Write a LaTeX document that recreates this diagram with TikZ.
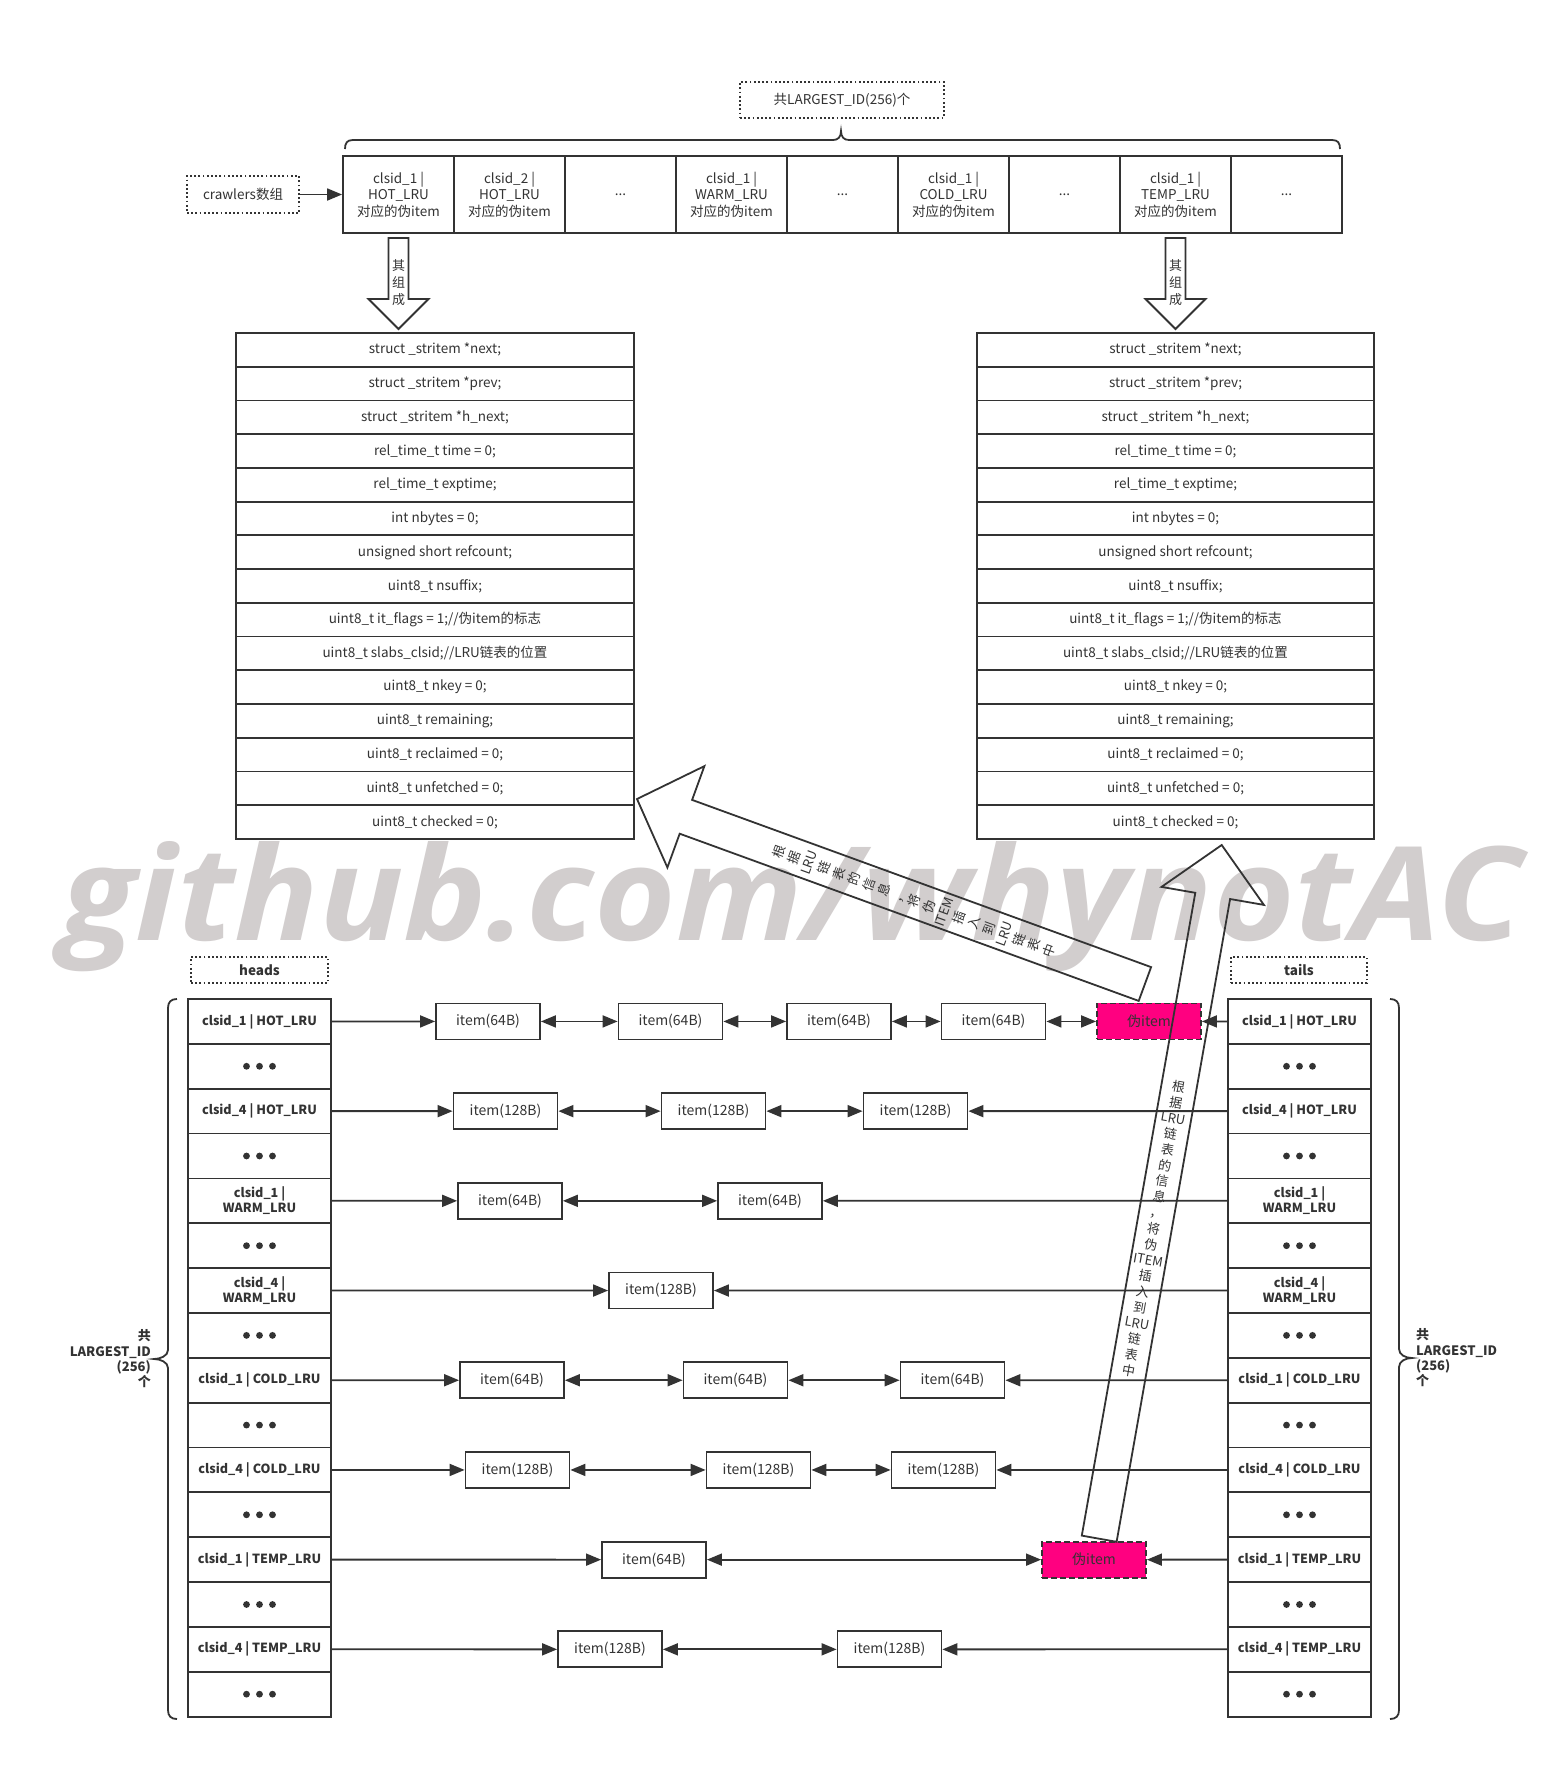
\documentclass[tikz,border=0pt]{standalone}
\usepackage{graphicx}
\usepackage{fontspec}
\setmainfont{Noto Sans CJK SC}
\newfontfamily\wmfont{Open Sans}
\usetikzlibrary{arrows.meta}
\definecolor{ink}{HTML}{333333}
\definecolor{wmc}{RGB}{210,206,206}
\definecolor{pinkc}{HTML}{FF0080}
\tikzset{
  every node/.style={text=ink, font=\fontsize{14}{16.5}\selectfont},
  box/.style={draw=ink, line width=1.8pt, inner sep=0pt, align=center},
  topcell/.style={box, minimum width=111pt, minimum height=77pt, font=\fontsize{13.5}{16.5}\selectfont},
  row/.style={box, minimum height=33.73pt, font=\fontsize{13.5}{16}\selectfont},
  colcell/.style={box, minimum width=143pt, minimum height=44.85pt, font=\bfseries\fontsize{12.6}{14.5}\selectfont},
  itembox/.style={box, minimum width=104pt, minimum height=36pt, font=\fontsize{14}{16}\selectfont},
  pinkbox/.style={itembox, fill=pinkc, dash pattern=on 6pt off 3pt},
  dotbox/.style={box, dash pattern=on 1.8pt off 2.4pt},
  conn/.style={draw=ink, line width=1.8pt},
  one/.style={conn, -{Triangle[length=15pt,width=12pt]}},
  two/.style={conn, {Triangle[length=15pt,width=12pt]}-{Triangle[length=15pt,width=12pt]}},
  bigarrow/.style={draw=ink, line width=1.8pt, line join=miter},
  bracepath/.style={draw=ink, line width=1.8pt},
}
\begin{document}
\begin{tikzpicture}[x=1pt,y=-1pt]
\useasboundingbox (0,0) rectangle (1559,1781);
\fill[white] (0,0) rectangle (1559,1781);

% watermark
\node[anchor=base west, inner sep=0pt, text=wmc] (wm) at (60,940)
  {\resizebox{1462pt}{99pt}{\wmfont\bfseries\itshape github.com/whynotAC}};

% top label and brace
\node[dotbox, minimum width=204pt, minimum height=36pt, font=\fontsize{13.5}{16}\selectfont] (lbl) at (842,100) {共LARGEST\_ID(256)个};
\draw[bracepath] (345,149) .. controls (345,143) and (347,140) .. (353,140) -- (833,140)
  .. controls (838,140) and (841,137) .. (841,131)
  .. controls (841,137) and (844,140) .. (849,140) -- (1332,140)
  .. controls (1338,140) and (1340,143) .. (1340,149);

% crawlers
\node[dotbox, minimum width=112pt, minimum height=37pt, font=\fontsize{13.5}{16}\selectfont] (crw) at (243,194.5) {crawlers数组};

% top array
\node[topcell] (top1) at (398.5,194.5) {clsid\_1 |\\HOT\_LRU\\对应的伪item};
\node[topcell] (top2) at (509.5,194.5) {clsid\_2 |\\HOT\_LRU\\对应的伪item};
\node[topcell] (top3) at (620.5,194.5) {...};
\node[topcell] (top4) at (731.5,194.5) {clsid\_1 |\\WARM\_LRU\\对应的伪item};
\node[topcell] (top5) at (842.5,194.5) {...};
\node[topcell] (top6) at (953.5,194.5) {clsid\_1 |\\COLD\_LRU\\对应的伪item};
\node[topcell] (top7) at (1064.5,194.5) {...};
\node[topcell] (top8) at (1175.5,194.5) {clsid\_1 |\\TEMP\_LRU\\对应的伪item};
\node[topcell] (top9) at (1286.5,194.5) {...};
\draw[one] (crw.east) -- (top1.west);

% down arrows
\foreach \cx/\nm in {398.5/dl,1175.5/dr}{
  \draw[bigarrow] (\cx-10,238) -- (\cx+10,238) -- (\cx+10,299) -- (\cx+30,299) -- (\cx,329)
     -- (\cx-30,299) -- (\cx-10,299) -- cycle;
  \node[align=center, inner sep=0pt, font=\fontsize{13}{17}\selectfont] (\nm) at (\cx,283) {其\\组\\成};
}

% struct tables
\foreach \t [count=\i] in {{struct \_stritem *next;},{struct \_stritem *prev;},{struct \_stritem *h\_next;},
  {rel\_time\_t time = 0;},{rel\_time\_t exptime;},{int nbytes = 0;},{unsigned short refcount;},
  {uint8\_t nsuffix;},{uint8\_t it\_flags = 1;//伪item的标志},{uint8\_t slabs\_clsid;//LRU链表的位置},
  {uint8\_t nkey = 0;},{uint8\_t remaining;},{uint8\_t reclaimed = 0;},{uint8\_t unfetched = 0;},
  {uint8\_t checked = 0;}}{
  \node[row, minimum width=398pt] (L\i) at (435,{333+33.73*(\i-0.5)}) {\t};
  \node[row, minimum width=397pt] (R\i) at (1175.5,{333+33.73*(\i-0.5)}) {\t};
}

% heads / tails labels
\node[dotbox, minimum width=137pt, minimum height=26pt, font=\bfseries\fontsize{13.5}{16}\selectfont] (heads) at (259.5,970) {heads};
\node[dotbox, minimum width=136pt, minimum height=26pt, font=\bfseries\fontsize{13.5}{16}\selectfont] (tails) at (1299,970) {tails};

% columns
\foreach \t [count=\k from 0] in {{clsid\_1 | HOT\_LRU},{},{clsid\_4 | HOT\_LRU},{},
  {clsid\_1 |\\WARM\_LRU},{},{clsid\_4 |\\WARM\_LRU},{},{clsid\_1 | COLD\_LRU},{},
  {clsid\_4 | COLD\_LRU},{},{clsid\_1 | TEMP\_LRU},{},{clsid\_4 | TEMP\_LRU},{}}{
  \node[colcell] (h\k) at (259.5,{999+44.85*(\k+0.5)}) {\t};
  \node[colcell] (t\k) at (1299.5,{999+44.85*(\k+0.5)}) {\t};
}
\foreach \k in {1,3,...,15}{
  \foreach \dx in {-13,0,13}{
    \fill[ink] (h\k.center) ++(\dx,0) circle (3.4);
    \fill[ink] (t\k.center) ++(\dx,0) circle (3.4);
  }
}

% braces
\draw[bracepath] (177,999) .. controls (171,999) and (168,1002) .. (168,1008) -- (168,1350)
  .. controls (168,1356) and (160,1359) .. (154,1359)
  .. controls (160,1359) and (168,1362) .. (168,1368) -- (168,1710)
  .. controls (168,1716) and (171,1719) .. (177,1719);
\draw[bracepath] (1390,999) .. controls (1396,999) and (1399,1002) .. (1399,1008) -- (1399,1349)
  .. controls (1399,1355) and (1406,1358) .. (1412,1358)
  .. controls (1406,1358) and (1399,1361) .. (1399,1367) -- (1399,1710)
  .. controls (1399,1716) and (1396,1719) .. (1390,1719);
\node[align=right, anchor=east, inner sep=0pt, font=\bfseries\fontsize{13}{15.3}\selectfont] (lbr) at (151,1359) {共\\LARGEST\_ID\\(256)\\个};
\node[align=left, anchor=west, inner sep=0pt, font=\bfseries\fontsize{13}{15.3}\selectfont] (rbr) at (1416,1358) {共\\LARGEST\_ID\\(256)\\个};

% items
\node[itembox] (i0a) at (488,1021.43) {item(64B)};
\node[itembox] (i0b) at (670.5,1021.43) {item(64B)};
\node[itembox] (i0c) at (839,1021.43) {item(64B)};
\node[itembox] (i0d) at (993.5,1021.43) {item(64B)};
\node[pinkbox] (p0) at (1149,1021.43) {伪item};

\node[itembox] (i2a) at (505.5,1111.13) {item(128B)};
\node[itembox] (i2b) at (713.5,1111.13) {item(128B)};
\node[itembox] (i2c) at (915.5,1111.13) {item(128B)};

\node[itembox] (i4a) at (510,1200.83) {item(64B)};
\node[itembox] (i4b) at (770,1200.83) {item(64B)};

\node[itembox] (i6a) at (661,1290.53) {item(128B)};

\node[itembox] (i8a) at (512,1380.23) {item(64B)};
\node[itembox] (i8b) at (735.5,1380.23) {item(64B)};
\node[itembox] (i8c) at (952.5,1380.23) {item(64B)};

\node[itembox] (i10a) at (517.5,1469.93) {item(128B)};
\node[itembox] (i10b) at (758.5,1469.93) {item(128B)};
\node[itembox] (i10c) at (943.5,1469.93) {item(128B)};

\node[itembox] (i12a) at (654,1559.63) {item(64B)};
\node[pinkbox] (p12) at (1094,1559.63) {伪item};

\node[itembox] (i14a) at (610,1649.33) {item(128B)};
\node[itembox] (i14b) at (889.5,1649.33) {item(128B)};

% connectors
\draw[one] (h0.east) -- (i0a.west);
\draw[two] (i0a.east) -- (i0b.west);
\draw[two] (i0b.east) -- (i0c.west);
\draw[two] (i0c.east) -- (i0d.west);
\draw[two] (i0d.east) -- (p0.west);
\draw[one] (t0.west) -- (p0.east);

\draw[one] (h2.east) -- (i2a.west);
\draw[two] (i2a.east) -- (i2b.west);
\draw[two] (i2b.east) -- (i2c.west);
\draw[one] (t2.west) -- (i2c.east);

\draw[one] (h4.east) -- (i4a.west);
\draw[two] (i4a.east) -- (i4b.west);
\draw[one] (t4.west) -- (i4b.east);

\draw[one] (h6.east) -- (i6a.west);
\draw[one] (t6.west) -- (i6a.east);

\draw[one] (h8.east) -- (i8a.west);
\draw[two] (i8a.east) -- (i8b.west);
\draw[two] (i8b.east) -- (i8c.west);
\draw[one] (t8.west) -- (i8c.east);

\draw[one] (h10.east) -- (i10a.west);
\draw[two] (i10a.east) -- (i10b.west);
\draw[two] (i10b.east) -- (i10c.west);
\draw[one] (t10.west) -- (i10c.east);

\draw[one] (h12.east) -- (i12a.west);
\draw[two] (i12a.east) -- (p12.west);
\draw[one] (t12.west) -- (p12.east);

\draw[one] (h14.east) -- (i14a.west);
\draw[two] (i14a.east) -- (i14b.west);
\draw[one] (t14.west) -- (i14b.east);

% big arrow 1 (from pseudo item in HOT_LRU to struct)
\draw[bigarrow] (637,799) -- (704.4,766.1) -- (692.1,799.9) -- (1151.1,967.1)
  -- (1138.7,1000.9) -- (679.7,833.7) -- (667.4,867.5) -- cycle;
\node[rotate=70, align=center, inner sep=0pt, font=\fontsize{13}{16}\selectfont] (txt1) at (914,901)
  {根\\据\\LRU\\链\\表\\的\\信\\息\\，\\将\\伪\\ITEM\\插\\入\\到\\LRU\\链\\表\\中};

% big arrow 2 (from pseudo item in TEMP_LRU to struct)
\draw[bigarrow] (1221.7,845) -- (1263.9,904.9) -- (1230.1,899.0) -- (1116.6,1541.8)
  -- (1081.8,1535.6) -- (1195.3,892.8) -- (1161.5,886.9) -- cycle;
\node[rotate=-10, align=center, inner sep=0pt, font=\fontsize{13}{16}\selectfont] (txt2) at (1153.7,1228.5)
  {根\\据\\LRU\\链\\表\\的\\信\\息\\，\\将\\伪\\ITEM\\插\\入\\到\\LRU\\链\\表\\中};
\end{tikzpicture}
\end{document}
